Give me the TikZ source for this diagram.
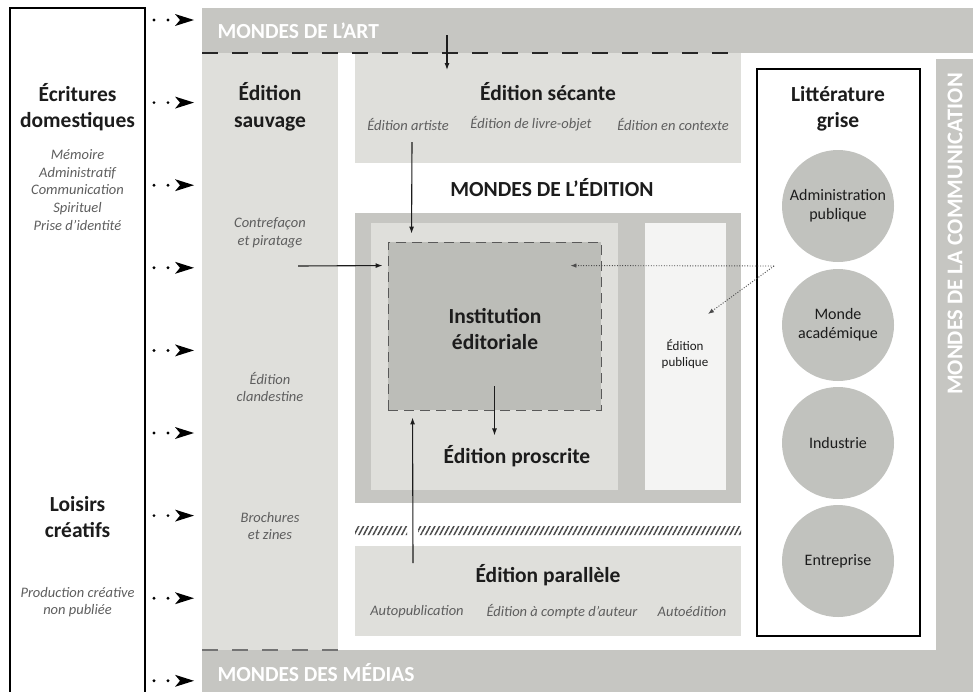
\documentclass[tikz,border=0pt]{standalone}
\usepackage{fontspec}
\setmainfont{Carlito}
\usepackage{tikz}
\usetikzlibrary{arrows.meta,patterns.meta,positioning}

\definecolor{bandgray}{HTML}{C6C6C2}
\definecolor{palegray}{HTML}{DFDFDB}
\definecolor{instgray}{HTML}{BCBDB8}
\definecolor{publicgray}{HTML}{F4F4F3}
\definecolor{notegray}{HTML}{5E5E5E}
\definecolor{inkgray}{HTML}{1C1C1C}

\begin{document}
\begin{tikzpicture}[x=1pt,y=-1pt,
    title/.style={font=\bfseries\fontsize{21.5}{26.5}\selectfont,text=inkgray,align=center},
    world/.style={font=\bfseries\fontsize{21.5}{26}\selectfont,text=white},
    note/.style={font=\itshape\fontsize{14.5}{17.7}\selectfont,text=notegray,align=center},
    zone/.style={fill=#1,inner sep=0pt,outer sep=0pt},
    sector/.style={circle,fill=instgray!92!white,minimum size=112pt,inner sep=0pt,
      font=\fontsize{16}{19}\selectfont,text=inkgray,align=center},
    flow/.style={draw=inkgray,line width=1.1pt,-{Latex[length=7pt,width=5pt]}},
    hint/.style={draw=black!70,line width=0.9pt,dash pattern=on 1pt off 1.6pt,
      -{Latex[length=6pt,width=4.5pt]}},
    feed/.style={line width=3.2pt,line cap=round,dash pattern=on 0pt off 14pt,
      -{Stealth[length=19pt,width=12pt,inset=5pt,line width=0pt]}},
    limit/.style={line width=1.3pt,dash pattern=on 16pt off 14pt}]

  \useasboundingbox (0,0) rectangle (973,691);

  % worlds around
  \fill[bandgray] (202,8) rectangle (973,53);
  \fill[bandgray] (936,59) rectangle (973,700);
  \fill[bandgray] (202,650) rectangle (973,700);
  \node[world,anchor=west] (art) at (214,31) {MONDES DE L’ART};
  \node[world,anchor=west] (media) at (214,673) {MONDES DES MÉDIAS};
  \node[world,rotate=90,font=\bfseries\fontsize{22.5}{26}\selectfont] (comm) at (955,234) {MONDES DE LA COMMUNICATION};

  % left column
  \node[draw=black,line width=1.2pt,minimum width=135pt,minimum height=692pt,inner sep=0pt] (domestic) at (77.5,354) {};
  \node[title] (ecritures) at (77.5,107) {Écritures\\domestiques};
  \node[note] (usages) at (77.5,190) {Mémoire\\Administratif\\Communication\\Spirituel\\Prise d’identité};
  \node[title] (loisirs) at (77.5,517) {Loisirs\\créatifs};
  \node[note] (creation) at (77.5,602) {Production créative\\non publiée};

  \foreach \i in {0,...,8}{
    \coordinate (from\i) at (154,{20+82.6*\i});
    \coordinate (to\i) at (194,{20+82.6*\i});
    \draw[feed] (from\i) -- (to\i);
  }

  % wild publishing
  \node[zone=palegray,minimum width=136pt,minimum height=597pt] (sauvage) at (270,351.5) {};
  \node[title] (sauvagetxt) at (270,107) {Édition\\sauvage};
  \node[note] (pirate) at (270,233) {Contrefaçon\\et piratage};
  \node[note] (clandestine) at (270,387) {Édition\\clandestine};
  \node[note] (zines) at (270,526) {Brochures\\et zines};

  % secant publishing
  \node[zone=palegray,minimum width=386pt,minimum height=110pt] (secante) at (548,108) {};
  \node[title] (secantetxt) at (548,92) {Édition sécante};
  \node[note] (artiste) at (408,124) {Édition artiste};
  \node[note] (livreobjet) at (531,124) {Édition de livre-objet};
  \node[note] (contexte) at (673,124) {Édition en contexte};

  \draw[limit,black!85] (sauvage.north west) -- (741,53);
  \draw[limit,black!55] (sauvage.south west) -- (sauvage.south east);

  % publishing worlds
  \node[font=\bfseries\fontsize{21.5}{26}\selectfont,text=inkgray] (edition) at (552,188) {MONDES DE L’ÉDITION};
  \node[zone=bandgray,minimum width=386pt,minimum height=290pt] (field) at (548,358) {};
  \node[zone=palegray,minimum width=247pt,minimum height=267pt] (proscribed) at (494.5,356.5) {};
  \node[zone=publicgray,minimum width=81pt,minimum height=267pt] (public) at (685.5,356.5) {};
  \node[fill=instgray,draw=black!65,line width=0.9pt,dash pattern=on 10pt off 6pt,
    minimum width=213pt,minimum height=168pt,inner sep=0pt] (inst) at (494.5,326) {};
  \node[title] (insttxt) at (495,329) {Institution\\éditoriale};
  \node[title] (proscrite) at (517,456) {Édition proscrite};
  \node[font=\fontsize{13}{16}\selectfont,text=inkgray,align=center] (publictxt) at (685,354) {Édition\\publique};

  % parallel publishing
  \fill[pattern={Lines[angle=62,distance=4.2pt,line width=1.5pt]},pattern color=black!70]
    (355,526) rectangle (407,535) (418,526) rectangle (741,535);
  \node[zone=palegray,minimum width=386pt,minimum height=90pt] (parallele) at (548,591) {};
  \node[title] (paralleletxt) at (548,575) {Édition parallèle};
  \node[note] (autopub) at (417,612) {Autopublication};
  \node[note] (compte) at (562,612) {Édition à compte d’auteur};
  \node[note] (autoed) at (692,612) {Autoédition};

  % grey literature
  \node[draw=black,line width=1.2pt,minimum width=163pt,minimum height=567pt,inner sep=0pt] (grise) at (838.5,352.5) {};
  \node[title] (grisetxt) at (838,109) {Littérature\\grise};
  \foreach \n/\y/\lbl in {admin/206/{Administration\\publique},acad/325/{Monde\\académique},
      indus/443/Industrie,entre/561/Entreprise}
    \node[sector] (\n) at (838,\y) {\lbl};

  % arrows
  \coordinate (artsrc) at (447,35);
  \coordinate (parsrc) at (413,563);
  \coordinate (wildsrc) at (298,266);
  \coordinate (greysrc) at (774,266);
  \draw[flow] (artsrc) -- ([xshift=92pt,yshift=-17pt]secante.north west);
  \draw[flow] ([xshift=57pt,yshift=21pt]secante.south west) -- ([xshift=24pt,yshift=8pt]inst.north west);
  \draw[flow] (wildsrc) -- ([xshift=-5pt,yshift=-24pt]inst.north west);
  \draw[flow] (parsrc) -- ([xshift=25pt,yshift=-7pt]inst.south west);
  \draw[flow] ([yshift=24pt]inst.south) -- ([yshift=-25pt]inst.south);
  \draw[hint] (greysrc) -- ([xshift=-31pt,yshift=-24pt]inst.north east);
  \draw[hint] (greysrc) -- (708,314);
\end{tikzpicture}
\end{document}
